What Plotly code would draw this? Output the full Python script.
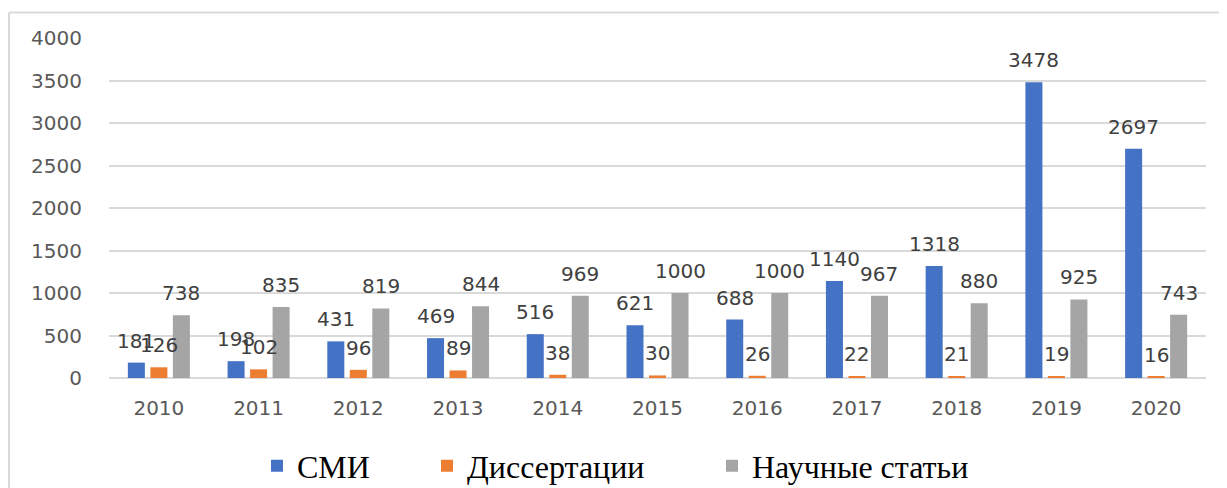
import plotly.graph_objects as go

years = [2010, 2011, 2012, 2013, 2014, 2015, 2016, 2017, 2018, 2019, 2020]
smi = [181, 198, 431, 469, 516, 621, 688, 1140, 1318, 3478, 2697]
dissertations = [126, 102, 96, 89, 38, 30, 26, 22, 21, 19, 16]
articles = [738, 835, 819, 844, 969, 1000, 1000, 967, 880, 925, 743]

names = ["СМИ", "Диссертации", "Научные статьи"]
colors = ["#4472C4", "#ED7D31", "#A5A5A5"]
series = [smi, dissertations, articles]

# page body has an 8px margin; figure coordinates = screen - 8
W, H = 1219, 480
ML, MR, MT, MB = 101, 21, 30, 110
pw = W - ML - MR
ph = H - MT - MB

legend_ids = ["legend", "legend2", "legend3"]
legend_left_px = [249, 419, 704]

fig = go.Figure()
for name, vals, col, lid in zip(names, series, colors, legend_ids):
    fig.add_trace(go.Bar(x=years, y=vals, name=name, legend=lid, showlegend=True,
                         marker=dict(color=col, line=dict(width=0))))

label_font = dict(family="DejaVu Sans", size=20, color="#404040")
offsets = [-22.5, 0, 22.5]
annotations = []
for vals, dx in zip(series, offsets):
    for yr, v in zip(years, vals):
        annotations.append(dict(x=yr, y=v, xref="x", yref="y", text=str(v), showarrow=False,
                                xshift=dx, yshift=22, yanchor="middle", xanchor="center",
                                font=label_font))

def px_x(px):
    return (px - ML) / pw

def px_y(py):
    return (H - MB - py) / ph

shapes = [
    dict(type="line", xref="paper", yref="paper", x0=px_x(1), x1=px_x(1240), y0=px_y(4.5), y1=px_y(4.5),
         line=dict(color="#d9d9d9", width=2)),
    dict(type="line", xref="paper", yref="paper", x0=px_x(1), x1=px_x(1), y0=px_y(4.5), y1=px_y(500),
         line=dict(color="#d9d9d9", width=2)),
]

legend_font = dict(family="Liberation Serif", size=32, color="#000000")
legends = {}
for lid, lx in zip(legend_ids, legend_left_px):
    legends[lid] = dict(orientation="h", xref="container", yref="container",
                        x=lx / W, xanchor="left", y=1 - 458 / H, yanchor="middle",
                        font=legend_font, bgcolor="rgba(0,0,0,0)", borderwidth=0, visible=True)

fig.update_layout(
    width=W, height=H,
    margin=dict(l=ML, r=MR, t=MT, b=MB, autoexpand=False),
    paper_bgcolor="white", plot_bgcolor="white",
    showlegend=True,
    barmode="group", bargap=0.323, bargroupgap=0.244,
    font=dict(family="DejaVu Sans", size=20, color="#595959"),
    xaxis=dict(type="linear", range=[years[0] - 0.5, years[-1] + 0.5], tickmode="array",
               tickvals=years, ticktext=[str(y) for y in years],
               showgrid=False, showline=False, zeroline=False, ticks="", ticklabelstandoff=16,
               tickfont=dict(family="DejaVu Sans", size=20, color="#595959")),
    yaxis=dict(range=[0, 4000], dtick=500, showgrid=True, gridcolor="#d9d9d9", gridwidth=1.5,
               zeroline=True, zerolinecolor="#d9d9d9", zerolinewidth=1.5, showline=False,
               ticklabelstandoff=26,
               tickfont=dict(family="DejaVu Sans", size=20, color="#595959")),
    annotations=annotations,
    shapes=shapes,
    **legends,
)

fig.write_html("out.html")
